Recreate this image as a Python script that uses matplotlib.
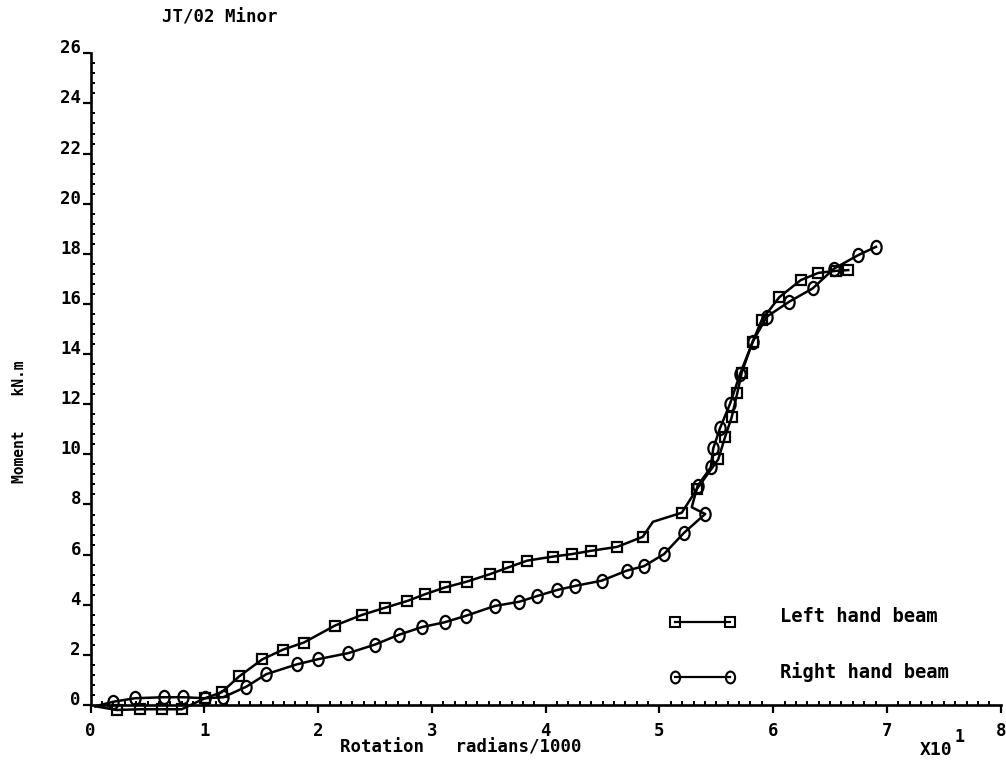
import matplotlib
matplotlib.use("Agg")
import matplotlib.pyplot as plt
from matplotlib.path import Path
from matplotlib.transforms import Affine2D
from matplotlib.ticker import MultipleLocator, FormatStrFormatter

# Rotation (radians/1000, x10) and moment (kN.m) for each beam
left_rot = [0.04, 0.229, 0.433, 0.624, 0.800, 1.005, 1.152, 1.305, 1.508, 1.691,
            1.873, 2.148, 2.382, 2.587, 2.783, 2.939, 3.115, 3.305, 3.510, 3.671,
            3.838, 4.062, 4.229, 4.396, 4.629, 4.853, 4.943, 5.196, 5.330, 5.517,
            5.576, 5.635, 5.684, 5.723, 5.820, 5.899, 6.054, 6.242, 6.397, 6.552,
            6.660]
left_mom = [-0.05, -0.20, -0.17, -0.17, -0.17, 0.27, 0.51, 1.14, 1.82, 2.21,
            2.49, 3.17, 3.59, 3.88, 4.15, 4.42, 4.69, 4.92, 5.22, 5.49,
            5.76, 5.92, 6.02, 6.15, 6.31, 6.71, 7.31, 7.67, 8.62, 9.80,
            10.68, 11.48, 12.44, 13.26, 14.50, 15.36, 16.27, 16.95, 17.24, 17.32,
            17.35]
left_plain = [0, 26]

right_rot = [0.04, 0.199, 0.389, 0.644, 0.814, 1.005, 1.166, 1.368, 1.544, 1.811,
             2.001, 2.265, 2.499, 2.708, 2.913, 3.112, 3.299, 3.552, 3.768, 3.926,
             4.102, 4.258, 4.492, 4.712, 4.864, 5.040, 5.216, 5.402, 5.284, 5.335,
             5.451, 5.473, 5.532, 5.620, 5.708, 5.820, 5.943, 6.141, 6.347, 6.535,
             6.748, 6.904]
right_mom = [-0.05, 0.13, 0.27, 0.31, 0.31, 0.27, 0.31, 0.73, 1.23, 1.62,
             1.83, 2.07, 2.41, 2.80, 3.11, 3.30, 3.56, 3.95, 4.12, 4.35,
             4.59, 4.75, 4.96, 5.36, 5.54, 6.02, 6.87, 7.62, 7.89, 8.74,
             9.48, 10.24, 11.04, 12.01, 13.20, 14.49, 15.49, 16.09, 16.62, 17.41,
             17.95, 18.28]
right_plain = [0, 28]

series_names = ["Left hand beam", "Right hand beam"]
x_ticks = [0, 1, 2, 3, 4, 5, 6, 7, 8]
y_ticks = list(range(0, 27, 2))

FONT = "DejaVu Sans Mono"
INK = "black"

# tall oval marker for the right-hand beam
oval = Path.unit_circle().transformed(Affine2D().scale(0.78, 1.0))

fig = plt.figure(figsize=(10.06, 7.71), dpi=100)
ax = fig.add_axes([90.7 / 1006, 1 - 705 / 771, 910 / 1006, 651.7 / 771])
ax.set_xlim(x_ticks[0], x_ticks[-1])
ax.set_ylim(y_ticks[0], y_ticks[-1])


def marked(n, plain):
    return [i for i in range(n) if i not in plain]


ax.plot(left_rot, left_mom, color=INK, lw=1.8, marker="s", ms=7.5, mew=1.6,
        mfc="none", mec=INK, markevery=marked(len(left_rot), left_plain),
        clip_on=False, solid_joinstyle="round")
ax.plot(right_rot, right_mom, color=INK, lw=1.8, marker=oval, ms=9.5, mew=1.6,
        mfc="none", mec=INK, markevery=marked(len(right_rot), right_plain),
        clip_on=False, solid_joinstyle="round")

# axes frame: left and bottom only
for side in ("top", "right"):
    ax.spines[side].set_visible(False)
for side in ("left", "bottom"):
    ax.spines[side].set_linewidth(1.9)
    ax.spines[side].set_capstyle("projecting")

ax.xaxis.set_major_locator(MultipleLocator(1))
ax.xaxis.set_minor_locator(MultipleLocator(0.1))
ax.yaxis.set_major_locator(MultipleLocator(2))
ax.yaxis.set_minor_locator(MultipleLocator(0.4))
ax.xaxis.set_major_formatter(FormatStrFormatter("%d"))
ax.yaxis.set_major_formatter(FormatStrFormatter("%d"))

ax.tick_params(which="major", direction="out", length=6, width=1.6,
               color=INK, labelsize=12.5)
ax.tick_params(which="minor", direction="in", length=3, width=1.4, color=INK)
ax.tick_params(axis="x", which="major", pad=6)
ax.tick_params(axis="y", which="major", pad=1)
for lab in ax.get_xticklabels() + ax.get_yticklabels():
    lab.set_fontfamily(FONT)
    lab.set_fontweight("bold")
for lab in ax.get_yticklabels():
    lab.set_verticalalignment("baseline")

# legend keys drawn as short lines with end markers
key_x = [0.642, 0.7025]
for (yk, mk, ms), name in zip([(0.1274, "s", 6.5), (0.043, oval, 8.5)], series_names):
    ax.plot(key_x, [yk, yk], transform=ax.transAxes, color=INK, lw=1.6,
            marker=mk, ms=ms, mew=1.5, mfc="none", mec=INK, clip_on=False)
    ax.text(0.7575, yk + 0.008, name, transform=ax.transAxes, ha="left",
            va="center", fontsize=13.5, family=FONT, fontweight="bold")

fig.text(220 / 1006, 1 - 18 / 771, "JT/02 Minor", ha="center", va="center",
         fontsize=12.5, family=FONT, fontweight="bold")
fig.text(461 / 1006, 1 - 748 / 771, "Rotation   radians/1000", ha="center",
         va="center", fontsize=12.5, family=FONT, fontweight="bold")
fig.text(20 / 1006, 1 - 422 / 771, "Moment    kN.m", ha="center", va="center",
         rotation=90, fontsize=10.5, family=FONT, fontweight="bold")
fig.text(920 / 1006, 1 - 750 / 771, "X10", ha="left", va="center",
         fontsize=13, family=FONT, fontweight="bold")
fig.text(955 / 1006, 1 - 737 / 771, "1", ha="left", va="center",
         fontsize=12, family=FONT, fontweight="bold")

fig.savefig("out.png", dpi=100, facecolor="white")
